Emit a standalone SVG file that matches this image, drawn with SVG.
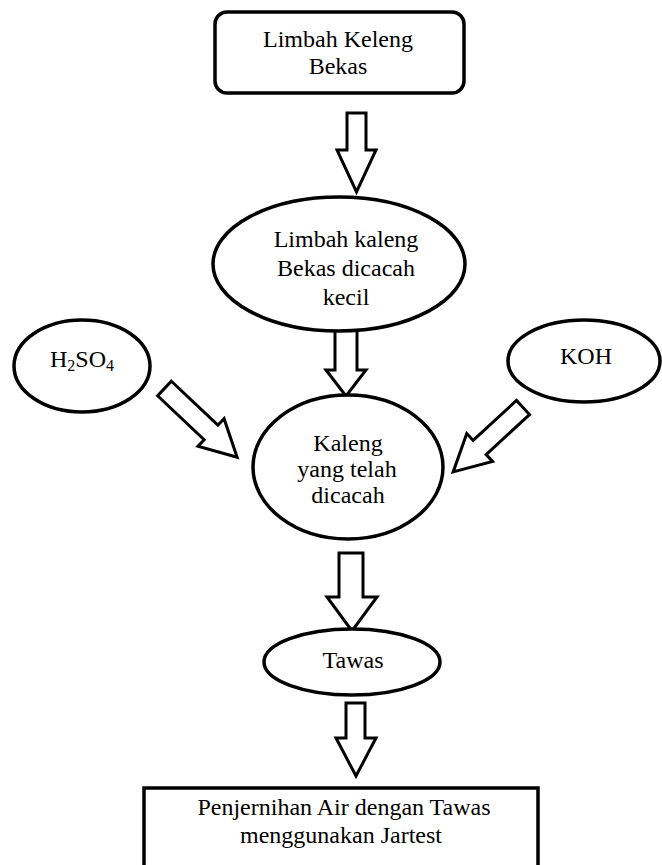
<svg xmlns="http://www.w3.org/2000/svg" width="662" height="865" viewBox="0 0 662 865">
<style>
.n{fill:#fff;stroke:#000;stroke-width:3.5}
.a{fill:#fff;stroke:#000;stroke-width:3;stroke-linejoin:miter}
text{font-family:"Liberation Serif","Times New Roman",serif;font-size:24px;fill:#000;text-anchor:middle}
</style>
<rect width="662" height="865" fill="#fff"/>
<g id="connectors">
<path class="a" d="M347,113 H366 V150 H376 L356.5,192 L337,150 H347 Z"/>
<path class="a" d="M335,325 H357 V370 H366 L346,396 L326,370 H335 Z"/>
<path class="a" d="M339,553 H363 V597 H377 L352,631 L327,597 H339 Z"/>
<path class="a" d="M346,703 H365 V738 H376 L356,776 L336,738 H346 Z"/>
<path class="a" transform="translate(164.5,388.5) rotate(43.4)" d="M0,-10 H64 V-19 L100,0 L64,19 V10 H0 Z"/>
<path class="a" transform="translate(523,407.5) rotate(137.3)" d="M0,-9.6 H59 V-19 L95,0 L59,19 V9.6 H0 Z"/>
</g>
<g id="n-limbah-keleng">
<rect class="n" x="215" y="12" width="249" height="81" rx="12" ry="12" stroke-width="4"/>
<text x="338" y="47">Limbah Keleng</text>
<text x="338" y="74">Bekas</text>
</g>
<g id="n-dicacah-kecil">
<ellipse class="n" cx="339" cy="264" rx="126" ry="67"/>
<text x="346" y="247">Limbah kaleng</text>
<text x="346" y="276">Bekas dicacah</text>
<text x="346" y="305">kecil</text>
</g>
<g id="n-h2so4">
<ellipse class="n" cx="82" cy="366" rx="68" ry="46"/>
<text x="82" y="367">H<tspan font-size="16" dy="4">2</tspan><tspan dy="-4">SO</tspan><tspan font-size="16" dy="4">4</tspan></text>
</g>
<g id="n-koh">
<ellipse class="n" cx="584" cy="361" rx="76" ry="41"/>
<text x="586" y="364">KOH</text>
</g>
<g id="n-kaleng">
<ellipse class="n" cx="348" cy="467" rx="95" ry="72"/>
<text x="348" y="451">Kaleng</text>
<text x="347" y="477">yang telah</text>
<text x="348" y="503">dicacah</text>
</g>
<g id="n-tawas">
<ellipse class="n" cx="352" cy="662" rx="88" ry="33"/>
<text x="353" y="668">Tawas</text>
</g>
<g id="n-penjernihan">
<rect class="n" x="144" y="788" width="394" height="100" stroke-width="4"/>
<text x="344" y="815">Penjernihan Air dengan Tawas</text>
<text x="341" y="843">menggunakan Jartest</text>
</g>
</svg>
